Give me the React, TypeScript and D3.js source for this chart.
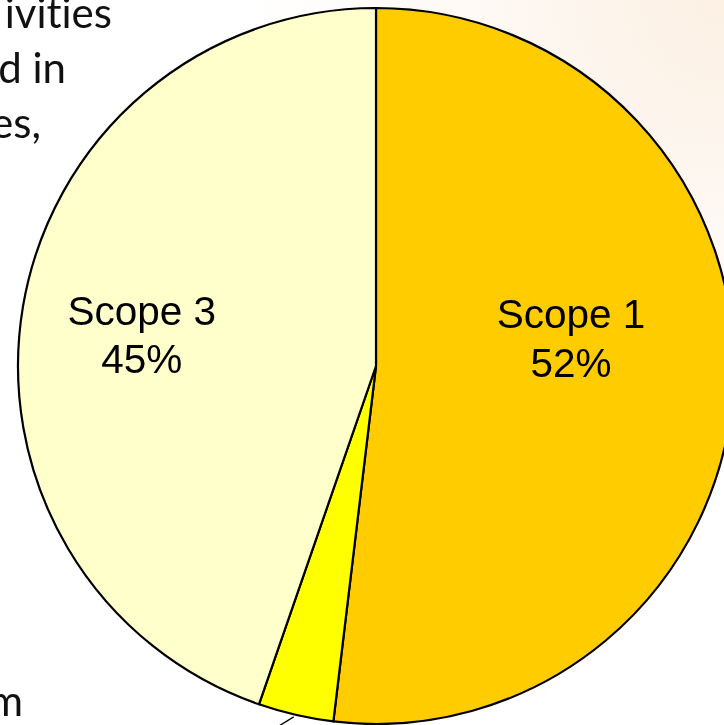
import React from "react";
import * as d3 from "d3";

const categories = ["Scope 1", "Scope 2", "Scope 3"];
const values = [51.9, 3.4, 44.7];
const percentLabels = ["52%", "3%", "45%"];
const colors = ["#FFCC00", "#FFFF00", "#FFFFCC"];
const bgTextLines = ["ivities", "d in", "es,", "m"];

const W = 724;
const H = 725;
const cx = 376;
const cy = 366;
const R = 358;

export default function App() {
  const pie = d3
    .pie<number>()
    .sort(null)
    .value((d) => d)
    .startAngle(0)
    .endAngle(2 * Math.PI);
  const arcs = pie(values);
  const arc = d3.arc<d3.PieArcDatum<number>>().innerRadius(0).outerRadius(R);

  const labelPolar = [
    { a: (82 * Math.PI) / 180, k: 0.55 },
    { a: 0, k: 1.25 },
    { a: (277.5 * Math.PI) / 180, k: 0.66 },
  ];

  const bgY = [28, 83, 138, 716];
  const bgX = [112, 66, 41, 23];

  return (
    <svg
      width={W}
      height={H}
      style={{ position: "fixed", left: 0, top: 0, overflow: "hidden", display: "block" }}
    >
      <defs>
        <radialGradient id="bg" cx={W} cy={0} r={480} gradientUnits="userSpaceOnUse">
          <stop offset="0" stopColor="#FCF0E3" />
          <stop offset="0.5" stopColor="#FEF9F4" />
          <stop offset="1" stopColor="#FFFFFF" />
        </radialGradient>
      </defs>
      <rect x={0} y={0} width={W} height={H} fill="url(#bg)" />
      <g
        fontFamily="Lato, 'Open Sans', sans-serif"
        fontSize={42}
        fill="#111"
        textAnchor="end"
        style={{ fontVariantLigatures: "none" }}
      >
        {bgTextLines.map((t, i) => (
          <text key={i} x={bgX[i]} y={bgY[i]}>
            {t}
          </text>
        ))}
      </g>
      <g transform={`translate(${cx},${cy})`}>
        {arcs.map((a, i) => (
          <path
            key={i}
            d={arc(a) || ""}
            fill={colors[i]}
            stroke="#000"
            strokeWidth={2.2}
            strokeLinejoin="round"
          />
        ))}
        {arcs.map((a, i) => {
          const mid = (a.startAngle + a.endAngle) / 2;
          if (i === 1) {
            const x0 = R * Math.sin(mid);
            const y0 = -R * Math.cos(mid);
            return (
              <g key={i}>
                <line x1={x0 - 2} y1={y0 + 2} x2={x0 - 80} y2={y0 + 50} stroke="#000" strokeWidth={1.3} />
                <text
                  x={x0 - 130}
                  y={y0 + 80}
                  fontFamily="'Liberation Sans', Arial, sans-serif"
                  fontSize={40}
                  textAnchor="middle"
                >
                  {categories[i]} {percentLabels[i]}
                </text>
              </g>
            );
          }
          const lp = labelPolar[i];
          const x = R * lp.k * Math.sin(lp.a);
          const y = -R * lp.k * Math.cos(lp.a);
          return (
            <text
              key={i}
              fontFamily="'Liberation Sans', Arial, sans-serif"
              fontSize={40.5}
              textAnchor="middle"
              fill="#000"
            >
              <tspan x={x} y={y - 10.5}>
                {categories[i]}
              </tspan>
              <tspan x={x} y={y + 38}>
                {percentLabels[i]}
              </tspan>
            </text>
          );
        })}
      </g>
    </svg>
  );
}
